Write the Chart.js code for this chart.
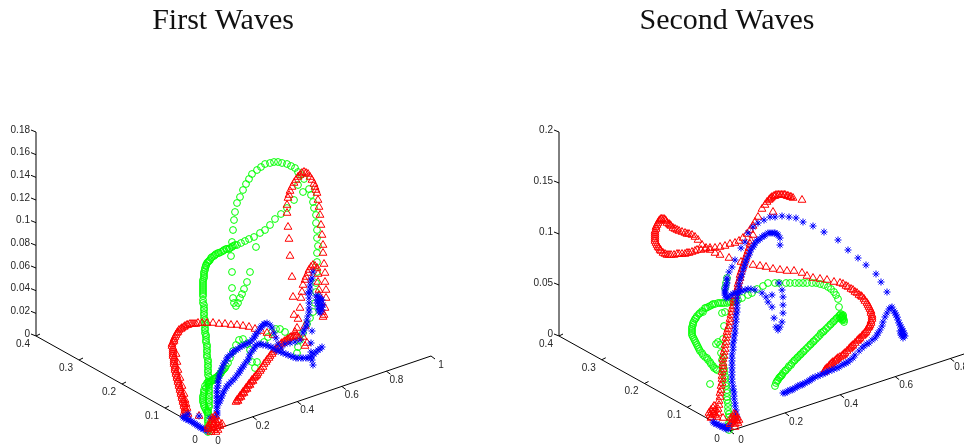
<!DOCTYPE html>
<html>
<head>
<meta charset="utf-8">
<title>First and Second Waves</title>
<script src="https://cdn.jsdelivr.net/npm/chart.js@4"></script>
<style>
  html, body { margin: 0; padding: 0; background: #fff; overflow: hidden; }
  #wrap { position: relative; width: 964px; height: 446px; }
  canvas { position: absolute; top: 0; }
  #graficoPrimera { left: 0; }
  #graficoSegunda { left: 482px; }
</style>
</head>
<body>
<div id="wrap">
  <canvas id="graficoPrimera" width="482" height="446"></canvas>
  <canvas id="graficoSegunda" width="482" height="446"></canvas>
</div>
<script>
// --- Data: the 3D curves, in projected view units from the top of the back corner ---
const firstGreen = [[172,-94],[172,-92],[172,-89],[172,-86],[172,-84],[172,-82],[172,-79],[172,-76],[172,-74],[173,-71],[173,-69],[173,-66],[173,-64],[173,-61],[173,-59],[173,-56],[173,-54],[173,-51],[173,-49],[173,-46],[173,-44],[173,-41],[172,-39],[172,-36],[172,-34],[172,-31],[172,-29],[172,-26],[172,-24],[171,-21],[171,-19],[171,-16],[171,-14],[171,-11],[171,-9],[170,-6],[170,-4],[170,-1],[170,1],[169,3],[169,6],[169,8],[169,11],[169,13],[169,16],[168,18],[168,21],[168,23],[168,26],[168,28],[168,31],[167,33],[167,36],[167,40],[167,42],[167,44],[167,46],[167,48],[167,50],[167,52],[167,54],[167,56],[168,58],[168,60],[168,62],[168,64],[169,66],[169,68],[170,70],[170,71],[171,73],[172,74],[173,75],[174,76],[175,78],[176,79],[178,80],[179,81],[180,82],[182,83],[183,83],[185,84],[187,85],[188,86],[190,87],[191,87],[193,87],[194,88],[196,89],[197,90],[199,91],[201,91],[205,93],[209,95],[213,97],[218,99],[224,103],[229,106],[234,111],[239,117],[245,122],[251,128],[258,136],[267,144],[262,151],[273,147],[275,141],[277,134],[278,128],[280,121],[280,113],[281,106],[281,98],[282,90],[281,83],[281,74],[281,64],[280,53],[280,44],[279,33],[277,24],[274,18],[271,12],[268,157],[265,161],[262,164],[259,168],[255,170],[251,172],[246,173],[242,174],[238,174],[234,173],[229,172],[225,169],[221,166],[216,162],[213,157],[210,152],[207,146],[204,139],[201,133],[199,124],[198,116],[197,106],[196,94],[195,80],[196,64],[196,48],[197,38],[198,33],[200,30],[202,33],[204,38],[206,42],[208,47],[211,54],[214,64],[220,89],[267,3],[264,-4],[262,-11],[261,-17],[254,-1],[249,4],[244,7],[240,7],[236,4],[232,-1],[228,-6],[214,-14],[211,-8],[207,-3],[203,-4],[200,-9],[197,-15],[194,-22],[192,-27],[190,-30],[189,-32],[188,-33],[187,-34],[186,-35],[185,-37],[184,-38],[183,-39],[182,-40],[181,-41],[180,-42],[179,-42],[178,-43],[177,-44],[176,-45],[175,-45],[174,-46],[173,-48],[172,-46],[171,-47],[170,-52],[169,-50],[168,-54],[168,-56],[168,-58],[167,-60],[167,-62],[167,-64],[167,-66],[168,-68],[168,-70],[169,-72],[170,-74],[171,-76],[172,-77],[221,-26],[219,-32],[216,-26],[172,-96]];
const firstRed = [[150,-78],[150,-76],[149,-74],[149,-72],[148,-70],[148,-68],[147,-66],[147,-64],[146,-62],[146,-60],[145,-58],[145,-56],[144,-54],[144,-52],[143,-50],[143,-48],[142,-46],[142,-44],[141,-42],[141,-40],[140,-38],[140,-36],[139,-34],[139,-32],[139,-30],[138,-28],[138,-26],[138,-24],[138,-22],[137,-20],[137,-18],[137,-16],[137,-14],[137,-12],[136,-10],[136,-8],[137,-6],[138,-5],[138,-3],[139,-1],[140,1],[141,3],[142,4],[143,6],[145,7],[146,8],[148,9],[149,10],[151,11],[152,11],[154,12],[156,12],[158,12],[160,12],[162,13],[166,13],[171,13],[177,13],[183,12],[189,12],[195,11],[201,11],[207,10],[213,9],[219,7],[225,5],[231,3],[237,1],[151,-80],[148,-77],[151,-72],[150,-68],[149,-64],[148,-58],[146,-50],[144,-42],[142,-34],[141,-26],[140,-18],[200,-66],[201,-64],[202,-65],[203,-62],[204,-60],[205,-61],[206,-58],[207,-56],[208,-57],[209,-54],[210,-52],[211,-53],[212,-50],[213,-48],[214,-49],[215,-46],[216,-44],[217,-45],[218,-42],[219,-41],[220,-40],[221,-39],[222,-37],[224,-35],[225,-33],[227,-31],[228,-28],[230,-26],[231,-24],[233,-22],[234,-20],[236,-18],[237,-16],[239,-14],[240,-13],[242,-11],[243,-10],[245,-8],[246,-7],[248,-6],[249,-5],[251,-4],[252,-3],[254,-2],[255,-1],[257,-1],[258,0],[260,0],[261,0],[263,-2],[269,10],[267,-1],[271,-7],[269,-10],[259,4],[261,8],[258,21],[262,17],[264,28],[265,38],[266,44],[267,51],[269,56],[270,59],[272,63],[273,66],[275,69],[277,71],[279,70],[281,68],[282,62],[290,46],[290,38],[289,28],[288,21],[287,19],[286,24],[285,33],[283,41],[283,46],[282,54],[257,39],[256,59],[254,80],[253,97],[252,109],[251,123],[251,131],[252,138],[253,141],[254,145],[256,149],[258,153],[260,156],[262,159],[264,161],[266,163],[268,164],[270,163],[272,162],[274,159],[276,156],[278,152],[279,149],[280,146],[281,143],[282,136],[283,129],[284,121],[285,111],[286,101],[287,91],[287,83],[288,72],[289,63],[289,54],[152,-78],[163,-80]];
const firstRedOrigin = [[181,-87],[174,-92],[179,-84],[184,-90],[177,-89],[175,-96],[182,-94],[172,-93],[176,-82],[178,-88],[180,-92],[176,-86],[183,-86],[178,-94],[174,-88],[186,-88],[172,-90],[180,-96],[182,-90],[176,-92],[179,-80],[177,-84]];
const firstBlue = [[147,-81],[148,-82],[149,-80],[150,-83],[152,-84],[153,-84],[155,-85],[156,-86],[158,-87],[159,-88],[161,-89],[162,-90],[164,-91],[165,-92],[167,-93],[168,-93],[170,-94],[171,-95],[152,-78],[163,-80],[174,-82],[177,-82],[180,-81],[181,-79],[181,-77],[181,-75],[181,-72],[181,-70],[181,-67],[181,-65],[181,-62],[181,-60],[181,-57],[181,-55],[181,-52],[182,-50],[182,-47],[182,-45],[183,-42],[183,-40],[184,-37],[185,-35],[186,-32],[187,-30],[188,-27],[190,-25],[191,-22],[192,-21],[194,-19],[196,-18],[197,-16],[198,-15],[200,-14],[202,-13],[204,-11],[206,-10],[208,-9],[210,-8],[212,-7],[214,-6],[216,-4],[218,-2],[219,0],[220,2],[222,4],[224,7],[225,9],[226,10],[228,12],[229,12],[231,13],[234,11],[236,8],[238,3],[240,-2],[242,-8],[245,-12],[183,-67],[184,-65],[185,-62],[186,-60],[187,-57],[188,-55],[190,-52],[191,-50],[193,-48],[195,-46],[197,-44],[199,-42],[201,-39],[203,-37],[204,-35],[205,-33],[207,-31],[208,-29],[210,-26],[212,-24],[213,-21],[214,-18],[216,-15],[218,-13],[219,-10],[221,-9],[223,-8],[225,-8],[227,-9],[230,-9],[232,-10],[235,-11],[237,-12],[240,-14],[242,-15],[245,-16],[247,-17],[250,-18],[252,-19],[255,-20],[257,-21],[260,-22],[262,-22],[265,-22],[267,-22],[270,-22],[272,-22],[274,-21],[276,-20],[278,-18],[280,-16],[282,-14],[284,-13],[286,-11],[275,-16],[276,-24],[277,-29],[249,-8],[254,-7],[259,-6],[264,-4],[267,3],[268,6],[270,9],[271,12],[271,16],[272,20],[273,24],[273,28],[273,33],[273,38],[274,43],[272,43],[274,47],[274,51],[275,55],[276,58],[277,64],[276,5],[275,-7],[280,40],[282,40],[284,39],[286,36],[287,31],[286,26],[284,23],[282,28],[281,33],[283,36],[285,31],[283,30],[281,36],[283,33],[285,36],[282,35],[284,27],[286,29],[283,25]];

const secondGreen = [[216,-50],[217,-47],[218,-45],[219,-44],[220,-42],[221,-41],[222,-40],[223,-39],[224,-37],[226,-35],[227,-34],[229,-32],[230,-30],[232,-29],[233,-27],[235,-25],[236,-24],[238,-22],[239,-21],[241,-19],[242,-18],[244,-16],[245,-15],[247,-13],[249,-11],[251,-9],[252,-8],[254,-6],[255,-5],[257,-3],[259,-1],[261,1],[262,3],[264,4],[265,5],[267,7],[269,9],[271,11],[272,12],[274,14],[275,15],[277,17],[278,18],[280,20],[281,21],[282,22],[283,20],[284,21],[284,20],[284,18],[284,17],[285,16],[285,14],[283,16],[283,19],[282,18],[281,18],[280,29],[279,37],[277,41],[275,44],[272,47],[269,49],[265,51],[261,52],[257,53],[253,53],[248,53],[244,53],[240,53],[236,53],[231,53],[227,53],[220,53],[216,53],[209,53],[204,50],[198,47],[193,43],[189,41],[183,38],[179,36],[176,35],[174,34],[172,34],[170,34],[168,33],[165,33],[163,33],[161,33],[159,33],[156,32],[154,32],[153,31],[151,30],[149,29],[147,28],[146,28],[144,24],[143,25],[141,23],[140,22],[138,20],[137,18],[136,17],[135,15],[134,13],[134,11],[133,9],[133,7],[133,5],[133,3],[133,1],[134,-1],[135,-3],[136,-5],[137,-7],[138,-9],[139,-11],[140,-13],[141,-15],[143,-17],[144,-19],[146,-21],[148,-22],[149,-24],[151,-26],[152,-28],[154,-30],[155,-32],[157,-33],[158,-34],[163,23],[166,24],[165,10],[157,-8],[159,-6],[164,-3],[161,-9],[162,-17],[163,-24],[151,-48],[164,-21],[164,-30],[165,-33],[165,-36],[166,-40],[166,-43],[167,-47],[167,-50],[168,-54],[168,-57],[168,-61],[168,-64],[169,-67],[169,-71],[169,-75],[170,-78],[170,-81],[171,-84],[170,-87],[170,-90],[170,-94],[168,58],[167,53],[166,48]];
const secondRed = [[103,117],[102,117],[101,116],[100,115],[99,113],[98,111],[97,109],[97,107],[96,105],[96,103],[96,101],[96,99],[96,97],[96,95],[97,93],[98,91],[99,89],[100,88],[101,86],[102,85],[104,83],[106,82],[108,81],[110,81],[112,81],[115,81],[118,82],[120,82],[123,82],[126,82],[128,83],[130,83],[133,84],[136,85],[138,86],[142,86],[146,87],[151,88],[156,88],[161,89],[166,90],[171,92],[176,93],[180,95],[184,98],[188,102],[191,106],[194,110],[196,114],[199,119],[203,127],[206,131],[208,134],[210,136],[211,137],[212,138],[213,139],[215,140],[216,140],[217,141],[219,141],[220,141],[222,141],[223,141],[225,141],[226,141],[228,140],[229,140],[231,139],[232,139],[234,138],[243,136],[214,124],[105,117],[106,116],[107,115],[108,113],[110,112],[111,111],[112,110],[114,108],[116,107],[118,106],[120,105],[123,104],[126,103],[128,102],[130,102],[133,101],[136,99],[139,96],[143,91],[147,88],[151,86],[156,83],[161,81],[170,78],[182,74],[194,71],[201,70],[207,69],[214,67],[221,66],[228,65],[235,65],[243,63],[248,60],[254,58],[261,57],[268,56],[275,54],[281,53],[284,52],[287,50],[289,49],[292,47],[294,46],[296,44],[298,43],[300,41],[302,40],[303,39],[305,37],[306,35],[308,33],[309,31],[310,29],[311,27],[312,25],[312,23],[313,21],[313,19],[313,17],[312,15],[312,13],[311,11],[310,10],[310,9],[309,8],[308,6],[307,4],[306,3],[305,2],[304,1],[303,0],[301,-2],[300,-3],[299,-4],[298,-5],[296,-7],[294,-9],[293,-10],[292,-11],[291,-12],[290,-13],[288,-15],[286,-17],[285,-18],[284,-19],[283,-20],[281,-21],[279,-22],[278,-23],[277,-24],[276,-25],[274,-26],[273,-27],[272,-28],[271,-29],[270,-30],[268,-32],[267,-33],[266,-34],[266,-35],[265,-36],[159,-77],[159,-73],[160,-69],[160,-65],[161,-61],[161,-57],[162,-54],[162,-50],[163,-47],[163,-43],[163,-40],[163,-36],[164,-33],[164,-30],[164,-27],[164,-23],[165,-20],[165,-16],[166,-13],[166,-9],[167,-6],[167,-2],[168,1],[168,4],[169,7],[170,10],[171,14],[171,17],[172,21],[173,24],[173,27],[174,30],[175,34],[175,37],[176,40],[177,43],[178,46],[179,49],[179,52],[180,55],[181,58],[181,61],[182,64],[183,67],[184,70],[185,73],[186,76],[187,79],[188,82],[189,85],[190,88],[191,92],[192,95],[194,101],[153,-76],[154,-72],[151,-79],[156,-74],[158,-81],[164,-82],[152,-82],[152,-74],[155,-76],[154,-78],[150,-77],[153,-81],[156,-79],[155,-70]];
const secondRedOrigin = [[174,-81],[178,-82],[179,-87],[173,-86],[176,-91],[175,-78],[174,-84],[177,-84],[176,-88],[178,-85],[180,-84],[172,-82],[175,-83],[171,-88],[177,-79]];
const secondBlue = [[154,-86],[155,-87],[157,-88],[158,-88],[160,-89],[161,-90],[163,-91],[164,-91],[166,-92],[167,-93],[169,-93],[168,-91],[165,-90],[171,-90],[174,-86],[178,-81],[177,-78],[177,-74],[176,-70],[176,-67],[175,-63],[175,-60],[175,-56],[174,-53],[174,-50],[173,-46],[173,-43],[173,-39],[173,-36],[173,-32],[173,-29],[173,-25],[173,-22],[173,-18],[174,-14],[174,-11],[174,-7],[175,-4],[175,0],[176,3],[176,7],[176,10],[177,14],[177,17],[177,21],[178,24],[178,28],[178,31],[178,35],[178,38],[179,42],[179,45],[180,49],[180,52],[181,56],[182,59],[183,62],[184,66],[185,69],[186,72],[187,75],[188,78],[190,81],[191,84],[192,87],[194,89],[195,91],[196,93],[198,95],[199,96],[201,97],[203,99],[205,100],[206,101],[209,103],[211,103],[213,103],[215,103],[216,103],[218,102],[219,101],[221,98],[221,91],[224,-57],[226,-57],[228,-56],[229,-55],[231,-54],[233,-54],[234,-53],[236,-52],[238,-51],[239,-50],[241,-49],[243,-49],[244,-48],[246,-47],[248,-46],[250,-45],[251,-44],[253,-43],[254,-42],[256,-41],[259,-40],[261,-39],[264,-38],[266,-37],[268,-36],[270,-35],[273,-34],[275,-33],[278,-32],[280,-31],[283,-29],[285,-28],[287,-27],[289,-26],[291,-24],[294,-22],[296,-19],[300,-15],[303,-12],[305,-10],[308,-8],[310,-7],[313,-4],[316,-2],[318,1],[319,3],[321,6],[323,10],[324,14],[326,19],[328,23],[330,27],[332,28],[333,29],[335,25],[336,23],[337,21],[338,19],[339,16],[340,13],[341,11],[342,9],[343,7],[344,5],[345,3],[345,1],[346,0],[344,-2],[344,0],[342,1],[341,5],[343,2],[343,5],[342,3],[328,44],[322,54],[317,62],[307,71],[299,78],[289,86],[279,96],[265,104],[254,110],[244,114],[237,118],[230,119],[223,120],[216,119],[211,119],[205,116],[199,113],[194,109],[189,103],[186,94],[182,88],[176,76],[173,69],[170,64],[168,58],[168,56],[168,53],[167,51],[167,49],[166,47],[166,45],[166,43],[166,41],[167,38],[168,39],[170,39],[172,41],[174,42],[176,43],[178,43],[180,44],[183,45],[186,46],[189,47],[192,47],[196,46],[203,43],[207,39],[209,34],[213,41],[213,29],[220,53],[223,46],[224,39],[224,31],[224,23],[223,14],[221,9],[219,6],[217,9],[215,18]];

// --- Tick labels of the three axes ---
const firstZTicks = ['0', '0.02', '0.04', '0.06', '0.08', '0.1', '0.12', '0.14', '0.16', '0.18'];
const firstXTicks = ['0', '0.2', '0.4', '0.6', '0.8', '1'];
const firstYTicks = ['0', '0.1', '0.2', '0.3', '0.4'];
const secondZTicks = ['0', '0.05', '0.1', '0.15', '0.2'];
const secondXTicks = ['0', '0.2', '0.4', '0.6', '0.8'];
const secondYTicks = ['0', '0.1', '0.2', '0.3', '0.4'];

const GREEN = '#00ff00';
const RED = '#ff0000';
const BLUE = '#0000ff';
const BLACK = '#000000';
const LABEL_COLOR = '#262626';

// Point on an axis for a tick value
function puntoEje(eje, valor) {
    const t = valor / eje.max;
    return { x: eje.desde.x + (eje.hasta.x - eje.desde.x) * t, y: eje.desde.y + (eje.hasta.y - eje.desde.y) * t };
}

function serie(datos, estilo, radio, grosor, orden) {
    return {
        data: datos.map(p => ({ x: p[0], y: p[1] })),
        pointStyle: estilo,
        pointRadius: radio,
        pointBorderColor: estilo === 'circle' ? GREEN : (estilo === 'triangle' ? RED : BLUE),
        pointBackgroundColor: 'transparent',
        pointBorderWidth: grosor,
        showLine: false,
        order: orden
    };
}

function linea(puntos, orden) {
    return { data: puntos, showLine: true, borderColor: BLACK, borderWidth: 1, pointRadius: 0, order: orden };
}

function crearGrafico(canvasId, cfg) {
    const datasets = [
        serie(cfg.redOrigin, 'triangle', 4.5, 1, 0),
        serie(cfg.blue, 'star', 3.5, 1, 1),
        serie(cfg.red, 'triangle', 4.5, 1, 2),
        serie(cfg.green, 'circle', 3.4, 1, 3)
    ];

    // Axis lines and their small tick marks
    cfg.ejes.forEach(eje => {
        datasets.push(linea([eje.desde, eje.hasta], 4));
        eje.ticks.forEach(t => {
            const p = puntoEje(eje, parseFloat(t));
            datasets.push(linea([p, { x: p.x + eje.marca.x, y: p.y + eje.marca.y }], 4));
        });
    });

    const textos = {
        id: 'textos',
        afterDraw(chart) {
            const ctx = chart.ctx;
            const sx = chart.scales.x, sy = chart.scales.y;
            ctx.save();
            ctx.fillStyle = LABEL_COLOR;
            ctx.font = '10px "Liberation Sans", Arial, sans-serif';
            ctx.textBaseline = 'middle';
            cfg.ejes.forEach(eje => {
                ctx.textAlign = eje.alinear;
                eje.ticks.forEach(t => {
                    const p = puntoEje(eje, parseFloat(t));
                    ctx.fillText(t, sx.getPixelForValue(p.x) + eje.etiqueta.x, sy.getPixelForValue(p.y) + eje.etiqueta.y);
                });
            });
            ctx.fillStyle = '#111111';
            ctx.font = '30px "Liberation Serif", "Times New Roman", serif';
            ctx.textAlign = 'center';
            ctx.textBaseline = 'alphabetic';
            ctx.fillText(cfg.titulo, cfg.tituloX, 29);
            ctx.restore();
        }
    };

    return new Chart(document.getElementById(canvasId).getContext('2d'), {
        type: 'scatter',
        data: { datasets: datasets },
        options: {
            responsive: false,
            animation: false,
            layout: { padding: 0, autoPadding: false },
            plugins: { legend: { display: false }, tooltip: { enabled: false }, title: { display: false } },
            scales: {
                x: { type: 'linear', display: false, min: cfg.xMin, max: cfg.xMin + 482 },
                y: { type: 'linear', display: false, min: -110, max: 336 }
            }
        },
        plugins: [textos]
    });
}

document.addEventListener('DOMContentLoaded', function() {
    crearGrafico('graficoPrimera', {
        green: firstGreen, red: firstRed, redOrigin: firstRedOrigin, blue: firstBlue,
        titulo: 'First Waves', tituloX: 223, xMin: -36,
        ejes: [
            { desde: { x: 0, y: 0 }, hasta: { x: 0, y: 204 }, max: 0.18, ticks: firstZTicks,
              marca: { x: -5, y: 2 }, etiqueta: { x: -6, y: -2 }, alinear: 'right' },
            { desde: { x: 172, y: -96 }, hasta: { x: 395, y: -20 }, max: 1, ticks: firstXTicks,
              marca: { x: 4, y: -3 }, etiqueta: { x: 10, y: 9 }, alinear: 'center' },
            { desde: { x: 172, y: -96 }, hasta: { x: 0, y: 0 }, max: 0.4, ticks: firstYTicks,
              marca: { x: 4, y: 2 }, etiqueta: { x: -13, y: 8 }, alinear: 'center' }
        ]
    });

    crearGrafico('graficoSegunda', {
        green: secondGreen, red: secondRed, redOrigin: secondRedOrigin, blue: secondBlue,
        titulo: 'Second Waves', tituloX: 245, xMin: -77,
        ejes: [
            { desde: { x: 0, y: 0 }, hasta: { x: 0, y: 204 }, max: 0.2, ticks: secondZTicks,
              marca: { x: -5, y: 2 }, etiqueta: { x: -6, y: -2 }, alinear: 'right' },
            { desde: { x: 171, y: -95 }, hasta: { x: 405, y: -18 }, max: 0.85, ticks: secondXTicks,
              marca: { x: 4, y: -3 }, etiqueta: { x: 11, y: 9 }, alinear: 'center' },
            { desde: { x: 171, y: -95 }, hasta: { x: 0, y: 0 }, max: 0.4, ticks: secondYTicks,
              marca: { x: 4, y: 2 }, etiqueta: { x: -13, y: 8 }, alinear: 'center' }
        ]
    });
});
</script>
</body>
</html>
